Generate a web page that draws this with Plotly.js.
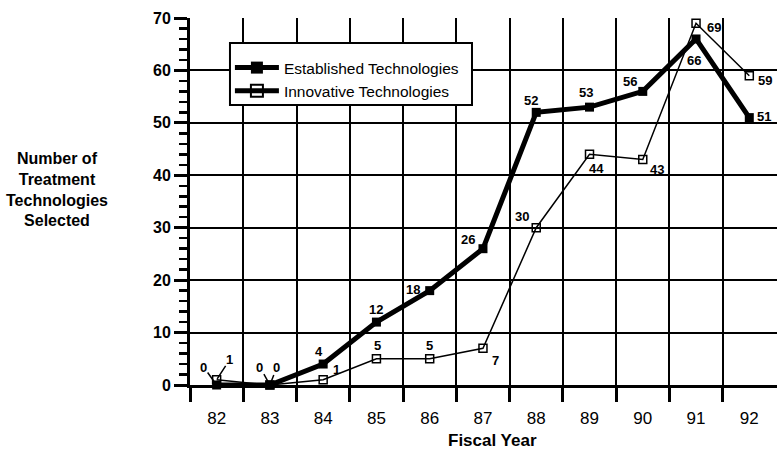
<!DOCTYPE html>
<html>
<head>
<meta charset="utf-8">
<script src="https://cdn.plot.ly/plotly-3.0.1.min.js"></script>
<style>html,body{margin:0;padding:0;background:#fff;}#chart{width:777px;height:449px;}</style>
</head>
<body>
<div id="chart"></div>
<script>
// ---- data ----
const years = [82, 83, 84, 85, 86, 87, 88, 89, 90, 91, 92];
const yearLabels = ['82', '83', '84', '85', '86', '87', '88', '89', '90', '91', '92'];
const established = [0, 0, 4, 12, 18, 26, 52, 53, 56, 66, 51];
const innovative = [1, 0, 1, 5, 5, 7, 30, 44, 43, 69, 59];
const seriesNames = ['Established Technologies', 'Innovative Technologies'];

// ---- label placement (pixel offsets from each point; leader = draw a short line) ----
const estLabelOffsets = [[-13,-18,true],[-10,-18,true],[-4,-13],[0,-13],[-17,-1],[-15,-9],[-5,-12],[-4,-15],[-13,-10],[-2,22],[15,-1]];
const innLabelOffsets = [[13,-20,true],[7,-18,true],[13,-10],[1,-13],[0,-13],[13,12],[-14,-11],[7,14],[14,10],[18,4],[16,5]];

const FONT = 'Liberation Sans, Arial, Helvetica, sans-serif';

function labels(values, offsets) {
  return years.map((yr, i) => {
    const o = offsets[i];
    const base = {
      x: yr, y: values[i], xref: 'x', yref: 'y',
      text: String(values[i]),
      font: {family: FONT, size: 13, color: '#000', weight: 'bold'}
    };
    if (o[2]) {
      return Object.assign(base, {showarrow: true, arrowhead: 0, arrowwidth: 1.5,
        arrowcolor: '#000', ax: o[0], ay: o[1], standoff: 1, borderpad: 0});
    }
    return Object.assign(base, {showarrow: false, xshift: o[0], yshift: -o[1]});
  });
}

const traces = [
  {
    x: years, y: established, name: seriesNames[0], type: 'scatter', mode: 'lines+markers',
    line: {color: '#000', width: 5},
    marker: {symbol: 'square', size: 9, color: '#000'},
    cliponaxis: false
  },
  {
    x: years, y: innovative, name: seriesNames[1], type: 'scatter', mode: 'lines+markers',
    line: {color: '#000', width: 1.5},
    marker: {symbol: 'square-open', size: 8, color: '#000', line: {width: 1.5, color: '#000'}},
    cliponaxis: false
  }
];

const boundaries = years.map(y => y - 0.5);

const layout = {
  width: 777, height: 449,
  margin: {l: 190, r: 0, t: 18, b: 64},
  paper_bgcolor: '#fff', plot_bgcolor: '#fff',
  font: {family: FONT, color: '#000'},
  showlegend: true,
  legend: {
    x: 0.068, y: 0.910, xanchor: 'left', yanchor: 'top',
    bgcolor: 'rgba(0,0,0,0)', borderwidth: 0,
    font: {family: FONT, size: 15.5, color: '#000'},
    itemsizing: 'constant', itemwidth: 44, tracegroupgap: 0
  },
  shapes: [
    {type: 'rect', xref: 'paper', yref: 'paper', layer: 'above',
     x0: 0.0681, x1: 0.4804, y0: (385 - 105) / 367, y1: (385 - 43) / 367,
     fillcolor: '#fff', line: {color: '#000', width: 2}}
  ],
  xaxis: {
    range: [81.5, 92.52], fixedrange: true,
    tickmode: 'array', tickvals: years, ticktext: yearLabels,
    ticks: 'outside', ticklen: 16, tickcolor: 'rgba(0,0,0,0)',
    tickfont: {family: FONT, size: 17, color: '#000'},
    showgrid: false, zeroline: false,
    showline: true, linecolor: '#000', linewidth: 3,
    minor: {tickmode: 'array', tickvals: boundaries, ticks: 'outside', ticklen: 14,
            tickwidth: 3, tickcolor: '#000', showgrid: true, gridcolor: '#000', gridwidth: 2}
  },
  yaxis: {
    range: [0, 70], fixedrange: true,
    tickmode: 'linear', tick0: 0, dtick: 10,
    ticks: 'outside', ticklen: 13, tickwidth: 3, tickcolor: '#000',
    tickfont: {family: FONT, size: 16, color: '#000', weight: 'bold'},
    showgrid: true, gridcolor: '#000', gridwidth: 2, zeroline: false,
    showline: true, linecolor: '#000', linewidth: 3,
    minor: {tick0: 0, dtick: 2, ticks: 'outside', ticklen: 8, tickwidth: 2.5, tickcolor: '#000', showgrid: false}
  },
  annotations: [
    {
      xref: 'paper', yref: 'paper', x: -0.2266, y: 0.534, xanchor: 'center', yanchor: 'middle',
      text: 'Number of<br>Treatment<br>Technologies<br>Selected', showarrow: false, align: 'center',
      font: {family: FONT, size: 16, color: '#000', weight: 'bold'}
    },
    {
      xref: 'paper', yref: 'paper', x: 0.5145, y: -0.15, xanchor: 'center', yanchor: 'middle',
      text: 'Fiscal Year', showarrow: false,
      font: {family: FONT, size: 17, color: '#000', weight: 'bold'}
    }
  ].concat(labels(established, estLabelOffsets), labels(innovative, innLabelOffsets))
};

Plotly.newPlot('chart', traces, layout, {displayModeBar: false, staticPlot: true});
</script>
</body>
</html>
